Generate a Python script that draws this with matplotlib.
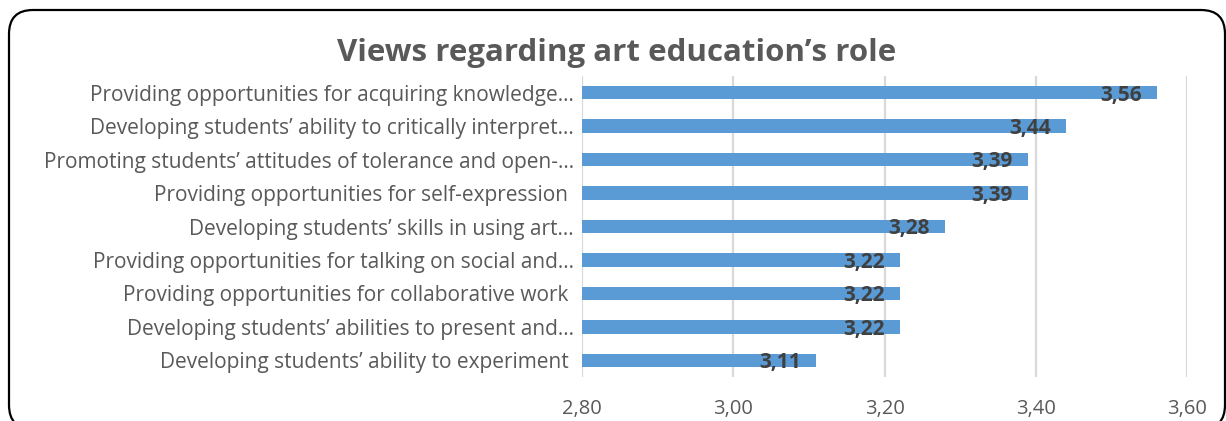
import matplotlib.pyplot as plt
from matplotlib.patches import FancyBboxPatch
from matplotlib.transforms import IdentityTransform
from matplotlib.ticker import FuncFormatter

# data (top to bottom as in the chart)
categories = [
    "Providing opportunities for acquiring knowledge…",
    "Developing students’ ability to critically interpret…",
    "Promoting students’ attitudes of tolerance and open-…",
    "Providing opportunities for self-expression ",
    "Developing students’ skills in using art…",
    "Providing opportunities for talking on social and…",
    "Providing opportunities for collaborative work ",
    "Developing students’ abilities to present and…",
    "Developing students’ ability to experiment ",
]
values = [3.56, 3.44, 3.39, 3.39, 3.28, 3.22, 3.22, 3.22, 3.11]
xticks = [2.80, 3.00, 3.20, 3.40, 3.60]

plt.rcParams['font.family'] = ['Open Sans', 'DejaVu Sans']

W, H = 1226, 421
fig = plt.figure(figsize=(W / 100, H / 100), dpi=100)

ax = fig.add_axes([582 / W, 1 - 377 / H, (1187 - 582) / W, (377 - 76) / H])

ypos = list(range(len(categories)))
ax.barh(ypos, [v - 2.80 for v in values], left=2.80, height=0.4,
        color="#5B9BD5", zorder=3)

for y, v in zip(ypos, values):
    ax.text(v - 0.02, y + 0.07, f"{v:.2f}".replace(".", ","),
            ha="right", va="center", fontsize=15, fontweight="bold",
            color="#404040", zorder=4)

ax.set_xlim(2.80, 3.60)
ax.set_ylim(len(categories) - 0.5, -0.5)
ax.set_xticks(xticks)
ax.xaxis.set_major_formatter(FuncFormatter(lambda x, p: f"{x:.2f}".replace(".", ",")))
ax.set_yticks(ypos)
ax.set_yticklabels(categories)
ax.tick_params(axis="x", length=0, pad=16, labelsize=14.5, labelcolor="#595959")
ax.tick_params(axis="y", length=0, pad=6, labelsize=15, labelcolor="#595959")
ax.grid(axis="x", color="#D9D9D9", linewidth=1.6, zorder=0)
for s in ax.spines.values():
    s.set_visible(False)

fig.text(617 / W, 1 - 53 / H, "Views regarding art education’s role",
         ha="center", va="center", fontsize=22.5, fontweight="bold", color="#595959")

# caption cut off at the top of the image (only descenders visible)
fig.text(8 / W, 1 + 3.5 / H, "Figure 6: Views on art education’s purpose",
         ha="left", va="baseline", fontsize=11, fontweight="bold", color="#2E75B6")

# rounded frame
frame = FancyBboxPatch((9, -8), 1216, 419,
                       boxstyle="round,pad=0,rounding_size=24",
                       transform=IdentityTransform(), facecolor="none",
                       edgecolor="black", linewidth=1.6, clip_on=False)
fig.add_artist(frame)

plt.savefig("out.png", dpi=100)
